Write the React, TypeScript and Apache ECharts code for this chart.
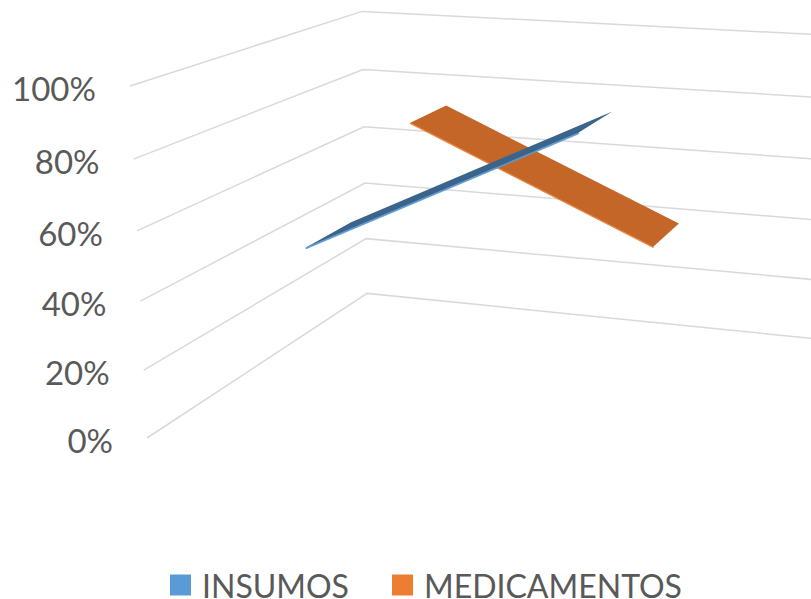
import React, { useEffect, useRef } from "react";
import * as echarts from "echarts";

const categories = ["1", "2"];
const tickValues = [0, 20, 40, 60, 80, 100];
const tickLabels = ["0%", "20%", "40%", "60%", "80%", "100%"];
const insumosName = "INSUMOS";
const medicamentosName = "MEDICAMENTOS";
const insumos = [53, 91];
const medicamentos = [74, 41];

const FONT = "Lato, Carlito, 'Open Sans', sans-serif";
const GREY = "#595959";

// Perspective of the 3D box: three vanishing points and the front-left floor corner.
const VX = [-5245, -275];
const VZ = [1212, -262];
const VY = [499, 7718];
const O = [147, 438];
const A = -0.0924;
const B = 0.2604;
const C = -0.04612;

// x: 0..1 across the width, z: 0..1 into the depth, y: 0..1 up the value axis.
function project(x: number, z: number, y: number): number[] {
  const u = A * x, t = B * z, s = C * y;
  const w = 1 + u + t + s;
  return [
    (u * VX[0] + t * VZ[0] + s * VY[0] + O[0]) / w,
    (u * VX[1] + t * VZ[1] + s * VY[1] + O[1]) / w,
  ];
}

function fractions(api: any, params: any, cat: number, value: number): number[] {
  const rect = params.coordSys;
  const p = api.coord([cat, value]);
  return [(p[0] - rect.x) / rect.width, (rect.y + rect.height - p[1]) / rect.height];
}

function ribbon(values: number[], z0: number, z1: number, face: string, edge: string, thickness: number) {
  return (params: any, api: any) => {
    const i = params.dataIndex;
    if (i >= values.length - 1) return null;
    const a = fractions(api, params, i, values[i]);
    const b = fractions(api, params, i + 1, values[i + 1]);
    const points = [
      project(a[0], z0, a[1]),
      project(a[0], z1, a[1]),
      project(b[0], z1, b[1]),
      project(b[0], z0, b[1]),
    ];
    const side = [
      project(a[0], z0, a[1]),
      project(b[0], z0, b[1]),
      project(b[0], z0, b[1] - thickness),
      project(a[0], z0, a[1] - thickness),
    ];
    return {
      type: "group",
      children: [
        { type: "polygon", shape: { points: side }, style: { fill: edge, stroke: edge, lineWidth: 0.5 } },
        { type: "polygon", shape: { points }, style: { fill: face } },
      ],
    };
  };
}

export default function App() {
  const ref = useRef<HTMLDivElement>(null);
  useEffect(() => {
    const chart = echarts.init(ref.current!, null, { renderer: "svg" });
    chart.setOption({
      animation: false,
      backgroundColor: "#ffffff",
      grid: { left: 0, right: 0, top: 0, bottom: 0 },
      xAxis: { type: "category", data: categories, show: false },
      yAxis: { type: "value", min: 0, max: 100, interval: 20, show: false },
      legend: {
        left: 170,
        top: 569,
        padding: 0,
        itemWidth: 21,
        itemHeight: 21,
        itemGap: 43,
        icon: "rect",
        selectedMode: false,
        data: [insumosName, medicamentosName],
        textStyle: { fontFamily: FONT, fontSize: 32, color: GREY, padding: [0, 0, 0, 6] },
      },
      series: [
        {
          type: "custom",
          silent: true,
          coordinateSystem: "cartesian2d",
          data: tickValues.map((v) => [0, v]),
          encode: { x: 0, y: 1 },
          renderItem: (params: any, api: any) => {
            const value = tickValues[params.dataIndex];
            const f = fractions(api, params, 0, value);
            const pts = [project(0, 0, f[1]), project(0, 1, f[1]), project(1, 1, f[1])];
            return {
              type: "group",
              children: [
                {
                  type: "polyline",
                  shape: { points: pts },
                  style: { fill: "none", stroke: "#D9D9D9", lineWidth: 1.5 },
                },
                {
                  type: "text",
                  style: {
                    text: tickLabels[params.dataIndex],
                    x: pts[0][0] - 34,
                    y: pts[0][1] + 2,
                    align: "right",
                    verticalAlign: "middle",
                    fill: GREY,
                    fontSize: 33,
                    fontFamily: FONT,
                  },
                },
              ],
            };
          },
        },
        {
          type: "custom",
          name: medicamentosName,
          silent: true,
          coordinateSystem: "cartesian2d",
          itemStyle: { color: "#ED7D31" },
          data: medicamentos.map((v, i) => [i, v]),
          encode: { x: 0, y: 1 },
          renderItem: ribbon(medicamentos, 0.65, 0.85, "#C46628", "#ED7D31", 0.003),
        },
        {
          type: "custom",
          name: insumosName,
          silent: true,
          coordinateSystem: "cartesian2d",
          itemStyle: { color: "#5B9BD5" },
          data: insumos.map((v, i) => [i, v]),
          encode: { x: 0, y: 1 },
          renderItem: ribbon(insumos, 0.15, 0.35, "#3A648C", "#5B9BD5", 0.004),
        },
      ],
    });
    return () => chart.dispose();
  }, []);
  return <div ref={ref} style={{ position: "fixed", left: 0, top: 0, width: 811, height: 599 }} />;
}
